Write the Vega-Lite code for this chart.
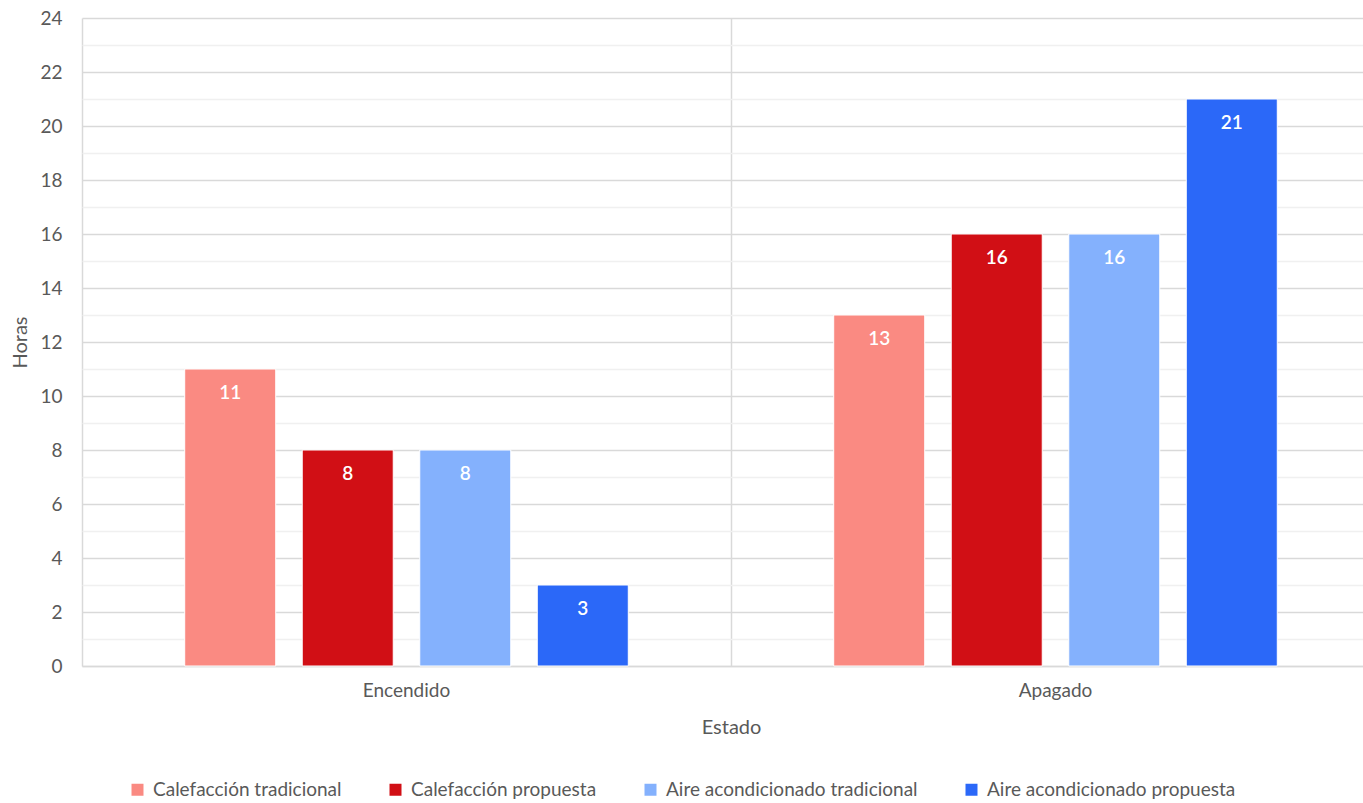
{
  "$schema": "https://vega.github.io/schema/vega-lite/v6.json",
  "autosize": {"type": "none"},
  "padding": {"left": 82, "top": 18, "right": 0, "bottom": 137},
  "width": 1281,
  "height": 648,
  "background": "white",
  "config": {
    "font": "Lato",
    "view": {"stroke": null},
    "axis": {"labelColor": "#595959", "titleColor": "#595959", "titleFontWeight": "normal"}
  },
  "data": {
    "values": [
      {"estado": "Encendido", "serie": "Calefacción tradicional", "horas": 11},
      {"estado": "Encendido", "serie": "Calefacción propuesta", "horas": 8},
      {"estado": "Encendido", "serie": "Aire acondicionado tradicional", "horas": 8},
      {"estado": "Encendido", "serie": "Aire acondicionado propuesta", "horas": 3},
      {"estado": "Apagado", "serie": "Calefacción tradicional", "horas": 13},
      {"estado": "Apagado", "serie": "Calefacción propuesta", "horas": 16},
      {"estado": "Apagado", "serie": "Aire acondicionado tradicional", "horas": 16},
      {"estado": "Apagado", "serie": "Aire acondicionado propuesta", "horas": 21}
    ]
  },
  "encoding": {
    "x": {
      "field": "estado",
      "type": "nominal",
      "sort": ["Encendido", "Apagado"],
      "scale": {"range": [0, 1298], "paddingInner": 0, "paddingOuter": 0},
      "axis": {
        "title": "Estado",
        "titleFontSize": 20,
        "titleX": 649,
        "titleY": 61,
        "titleBaseline": "middle",
        "labelAngle": 0,
        "labelFontSize": 19,
        "labelPadding": 24,
        "labelBaseline": "middle",
        "ticks": false,
        "domainColor": "#d9d9d9",
        "domainWidth": 1.5,
        "grid": true,
        "bandPosition": 0,
        "gridColor": "#d9d9d9",
        "gridWidth": 1.5
      }
    },
    "xOffset": {
      "field": "serie",
      "type": "nominal",
      "sort": ["Calefacción tradicional", "Calefacción propuesta", "Aire acondicionado tradicional", "Aire acondicionado propuesta"],
      "scale": {"paddingInner": 0.2255, "paddingOuter": 0.874}
    },
    "y": {
      "field": "horas",
      "type": "quantitative",
      "scale": {"domain": [0, 24], "nice": false},
      "axis": {
        "title": "Horas",
        "titleFontSize": 20,
        "titleX": -62,
        "titleY": 324,
        "titleAlign": "center",
        "titleBaseline": "middle",
        "values": [0, 1, 2, 3, 4, 5, 6, 7, 8, 9, 10, 11, 12, 13, 14, 15, 16, 17, 18, 19, 20, 21, 22, 23, 24],
        "labelExpr": "datum.value % 2 ? '' : datum.label",
        "labelFontSize": 19,
        "labelPadding": 20,
        "ticks": false,
        "domain": false,
        "gridColor": {"condition": {"test": "datum.value % 2 === 1", "value": "#f0f0f0"}, "value": "#d9d9d9"},
        "gridWidth": 1.5
      }
    }
  },
  "layer": [
    {
      "mark": {"type": "bar", "stroke": "white", "strokeWidth": 1},
      "encoding": {
        "color": {
          "field": "serie",
          "type": "nominal",
          "sort": ["Calefacción tradicional", "Calefacción propuesta", "Aire acondicionado tradicional", "Aire acondicionado propuesta"],
          "scale": {
            "domain": ["Calefacción tradicional", "Calefacción propuesta", "Aire acondicionado tradicional", "Aire acondicionado propuesta"],
            "range": ["#fa8a82", "#d10f15", "#84b1fd", "#2b68f8"]
          },
          "legend": {
            "title": null,
            "orient": "none",
            "direction": "horizontal",
            "legendX": 46,
            "legendY": 762,
            "padding": 0,
            "symbolType": "square",
            "symbolSize": 144,
            "symbolStrokeWidth": 0,
            "labelFontSize": 19,
            "labelLimit": 0,
            "labelColor": "#595959",
            "labelOffset": 6,
            "columnPadding": 44
          }
        }
      }
    },
    {
      "mark": {"type": "text", "dy": 24, "baseline": "middle", "color": "white", "fontSize": 19, "fontWeight": 600},
      "encoding": {"text": {"field": "horas", "type": "quantitative"}}
    }
  ]
}
